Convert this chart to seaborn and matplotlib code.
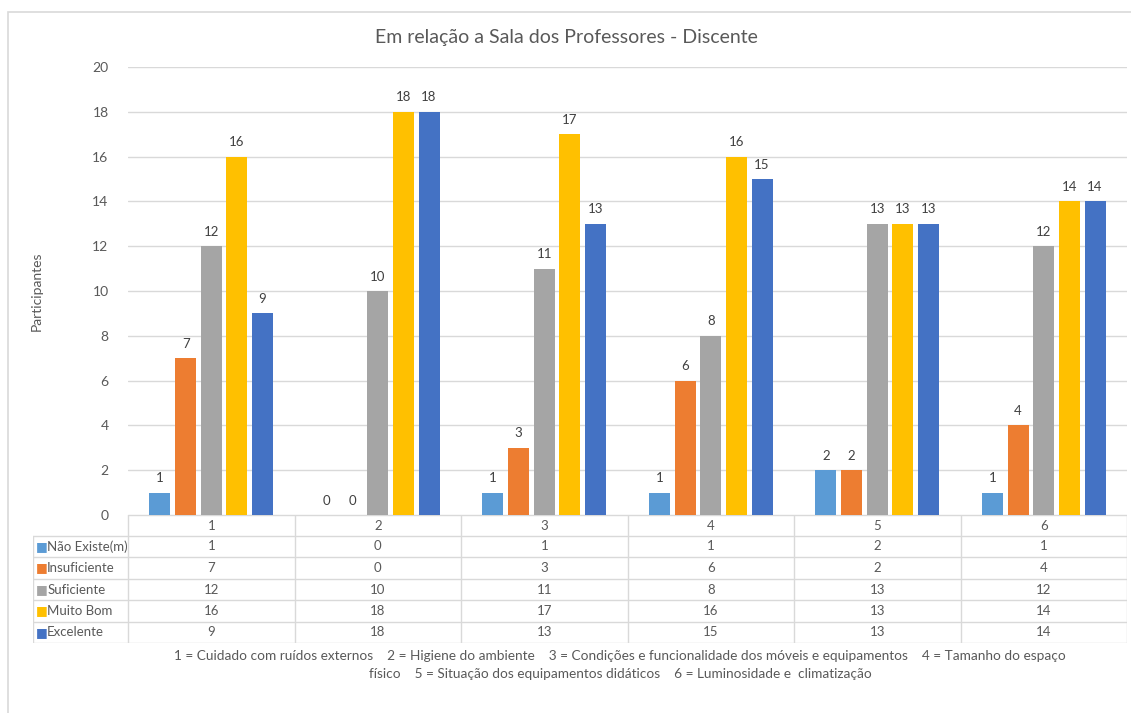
import numpy as np
import pandas as pd
import matplotlib
matplotlib.use("Agg")
import matplotlib.pyplot as plt
import seaborn as sns

categories = ["1", "2", "3", "4", "5", "6"]
series_names = ["Não Existe(m)", "Insuficiente", "Suficiente", "Muito Bom", "Excelente"]
nao_existe = [1, 0, 1, 1, 2, 1]
insuficiente = [7, 0, 3, 6, 2, 4]
suficiente = [12, 10, 11, 8, 13, 12]
muito_bom = [16, 18, 17, 16, 13, 14]
excelente = [9, 18, 13, 15, 13, 14]
colors = ["#5B9BD5", "#ED7D31", "#A5A5A5", "#FFC000", "#4472C4"]
yticks = [0, 2, 4, 6, 8, 10, 12, 14, 16, 18, 20]
title = "Em relação a Sala dos Professores - Discente"
ylabel = "Participantes"
footnote = ("1 = Cuidado com ruídos externos    2 = Higiene do ambiente    "
            "3 = Condições e funcionalidade dos móveis e equipamentos    4 = Tamanho do espaço\n"
            "físico    5 = Situação dos equipamentos didáticos    6 = Luminosidade e  climatização")

series_values = [nao_existe, insuficiente, suficiente, muito_bom, excelente]
rows = []
for name, vals in zip(series_names, series_values):
    for c, v in zip(categories, vals):
        rows.append({"Categoria": c, "Serie": name, "Valor": v})
df = pd.DataFrame(rows)

sns.set_theme(style="white")
plt.rcParams["font.family"] = ["Lato", "DejaVu Sans"]
TXT = "#595959"

W, H = 1131, 713
fig = plt.figure(figsize=(W / 100, H / 100), dpi=100)

def fx(px):
    return px / W

def fy(py):
    return 1 - py / H

# outer chart border
fig.patches.append(plt.Rectangle((fx(8), fy(760)), fx(1200), fy(12) - fy(760),
                                 transform=fig.transFigure, fill=False,
                                 edgecolor="#D9D9D9", lw=1.2, zorder=0))

ax_l, ax_r, ax_t, ax_b = 128, 1127, 67, 515
ax = fig.add_axes([fx(ax_l), fy(ax_b), fx(ax_r - ax_l), fy(ax_t) - fy(ax_b)])
sns.barplot(data=df, x="Categoria", y="Valor", hue="Serie", order=categories,
            hue_order=series_names, palette=colors, width=0.77, gap=0.18,
            saturation=1, ax=ax, legend=False, errorbar=None, linewidth=0)
ax.set_xlim(-0.5, 5.5)
ax.set_ylim(0, 20)
ax.set_yticks(yticks)
ax.set_yticklabels([str(t) for t in yticks], fontsize=10, color=TXT)
ax.tick_params(axis="y", length=0, pad=14)
ax.set_xticks([])
ax.set_xlabel("")
ax.set_ylabel("")
ax.grid(axis="y", color="#D9D9D9", lw=1)
ax.set_axisbelow(True)
for s in ax.spines.values():
    s.set_visible(False)
for cont in ax.containers:
    ax.bar_label(cont, padding=6, fontsize=9.5, color="#404040")

fig.text(fx(566), fy(37), title, ha="center", va="center", fontsize=14, color=TXT)
fig.text(fx(37), fy(291), ylabel, rotation=90, ha="center", va="center", fontsize=10, color=TXT)

# data table
leg_l = 33
unit = (ax_r - ax_l) / 6.0
x0 = -0.5 - (ax_l - leg_l) / unit
row_edges = [515, 536, 557, 579, 600, 622, 643]
tax = fig.add_axes([fx(leg_l), fy(643), fx(ax_r - leg_l), fy(515) - fy(643)])
tax.set_xlim(x0, 5.5)
tax.set_ylim(643, 515)
tax.axis("off")
lc = "#D9D9D9"
tax.plot([-0.5, 5.5], [515, 515], color=lc, lw=1)
for y in row_edges[1:]:
    tax.plot([x0, 5.5], [y, y], color=lc, lw=1)
for i in range(7):
    tax.plot([i - 0.5, i - 0.5], [515, 643], color=lc, lw=1)
tax.plot([x0, x0], [536, 643], color=lc, lw=1)
for i, c in enumerate(categories):
    tax.text(i, (515 + 536) / 2, c, ha="center", va="center", fontsize=9.5, color=TXT)
for r, (name, vals, col) in enumerate(zip(series_names, series_values, colors)):
    yc = (row_edges[r + 1] + row_edges[r + 2]) / 2
    tax.text(x0 + 0.02, yc, "■", ha="left", va="center", fontsize=9, color=col,
             family=["DejaVu Sans"])
    tax.text(x0 + 0.085, yc, name, ha="left", va="center", fontsize=9.5, color=TXT)
    for i, v in enumerate(vals):
        tax.text(i, yc, str(v), ha="center", va="center", fontsize=9.5, color=TXT)

fig.text(fx(620), fy(665), footnote, ha="center", va="center", fontsize=9.8,
         color=TXT, linespacing=1.6)

fig.savefig("out.png", dpi=100)
